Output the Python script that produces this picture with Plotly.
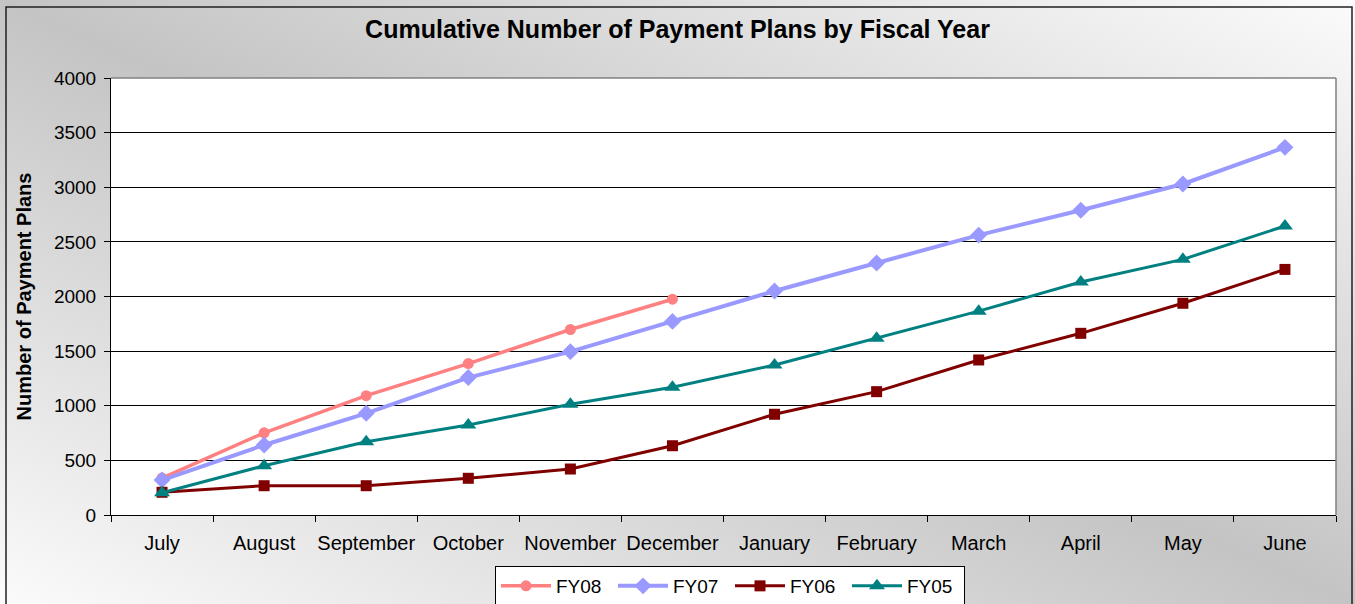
import base64
import plotly.graph_objects as go

months = ["July", "August", "September", "October", "November", "December",
          "January", "February", "March", "April", "May", "June"]
fy08 = [338, 752, 1092, 1386, 1698, 1975]
fy07 = [320, 641, 931, 1258, 1495, 1772, 2050, 2307, 2562, 2790, 3030, 3365]
fy06 = [208, 268, 268, 336, 421, 634, 922, 1129, 1419, 1663, 1938, 2248]
fy05 = [204, 451, 671, 824, 1013, 1169, 1373, 1617, 1866, 2133, 2340, 2645]

W, H = 1355, 604
L, R, T, B = 111, 19, 78, 89
PW, PH = W - L - R, H - T - B

def px_x(px):
    return (px - L) / PW

def px_y(py):
    return (H - B - py) / PH

FONT = "Liberation Sans, Arial, sans-serif"

fig = go.Figure()
fig.add_trace(go.Scatter(x=months[:len(fy08)], y=fy08, name="FY08", mode="lines+markers",
                         line=dict(color="#FF8080", width=3.5),
                         marker=dict(symbol="circle", size=11, color="#FF8080")))
fig.add_trace(go.Scatter(x=months, y=fy07, name="FY07", mode="lines+markers",
                         line=dict(color="#9999FF", width=4),
                         marker=dict(symbol="diamond", size=13, color="#9999FF")))
fig.add_trace(go.Scatter(x=months, y=fy06, name="FY06", mode="lines+markers",
                         line=dict(color="#800000", width=3),
                         marker=dict(symbol="square", size=11, color="#800000")))
fig.add_trace(go.Scatter(x=months, y=fy05, name="FY05", mode="lines+markers",
                         line=dict(color="#008080", width=3),
                         marker=dict(symbol="triangle-up", size=14, color="#008080")))

svg = (f'<svg xmlns="http://www.w3.org/2000/svg" width="{W}" height="{H}" '
       f'viewBox="0 0 {W} {H}" preserveAspectRatio="none">'
       '<defs><linearGradient id="g" x1="0" y1="1" x2="1" y2="0">'
       '<stop offset="0" stop-color="#fbfbfb"/>'
       '<stop offset="0.5" stop-color="#c4c4c4"/>'
       '<stop offset="1" stop-color="#fbfbfb"/>'
       '</linearGradient></defs>'
       f'<rect x="0" y="0" width="{W}" height="{H}" fill="url(#g)"/></svg>')
src = "data:image/svg+xml;base64," + base64.b64encode(svg.encode()).decode()

fig.update_layout(
    width=W, height=H,
    margin=dict(l=L, r=R, t=T, b=B, autoexpand=False),
    paper_bgcolor="#e0e0e0",
    plot_bgcolor="white",
    font=dict(family=FONT, color="black", size=19),
    images=[dict(source=src, xref="paper", yref="paper",
                 x=px_x(0), y=px_y(0), sizex=W / PW, sizey=H / PH,
                 xanchor="left", yanchor="top", sizing="stretch", layer="below")],
    title=dict(text="<b>Cumulative Number of Payment Plans by Fiscal Year</b>",
               x=0.5, xanchor="center", y=1 - 29 / H, yanchor="middle",
               automargin=False,
               font=dict(family=FONT, size=25, color="black")),
    xaxis=dict(type="category", categoryorder="array", categoryarray=months,
               range=[-0.5, 11.5], showgrid=False, tickson="boundaries",
               ticks="outside", ticklen=6, tickcolor="black", tickwidth=1,
               showline=True, linecolor="black", linewidth=1, automargin=False,
               tickangle=0, ticklabelstandoff=10, tickfont=dict(size=20)),
    yaxis=dict(range=[0, 4000], dtick=500, tick0=0, showgrid=True,
               gridcolor="black", gridwidth=1, zeroline=False,
               ticks="outside", ticklen=6, tickcolor="black", automargin=False,
               showline=True, linecolor="black", linewidth=1,
               ticklabelstandoff=4, tickfont=dict(size=19),
               title=dict(text="<b>Number of Payment Plans</b>", standoff=16,
                          font=dict(size=20))),
    legend=dict(orientation="h", x=px_x(730), xanchor="center",
                y=px_y(566), yanchor="top", bgcolor="white",
                bordercolor="black", borderwidth=1, itemwidth=50,
                font=dict(size=19), entrywidth=52, entrywidthmode="pixels",
                traceorder="normal"),
    showlegend=True,
    shapes=[
        dict(type="rect", xref="paper", yref="paper", x0=0, x1=1, y0=0, y1=1,
             fillcolor="white", line=dict(width=0), layer="below"),
        dict(type="line", xref="paper", yref="paper", x0=0, x1=1, y0=1, y1=1,
             line=dict(color="#808080", width=1.5), layer="above"),
        dict(type="line", xref="paper", yref="paper", x0=1, x1=1, y0=0, y1=1,
             line=dict(color="#808080", width=1.5), layer="above"),
        dict(type="rect", xref="paper", yref="paper",
             x0=px_x(6), x1=px_x(1352), y0=px_y(612), y1=px_y(7),
             line=dict(color="#202020", width=1.5), layer="above"),
    ],
)

fig.write_html("out.html", config={"displayModeBar": False},
               post_script="document.body.style.margin='0';document.body.style.overflow='hidden';")
